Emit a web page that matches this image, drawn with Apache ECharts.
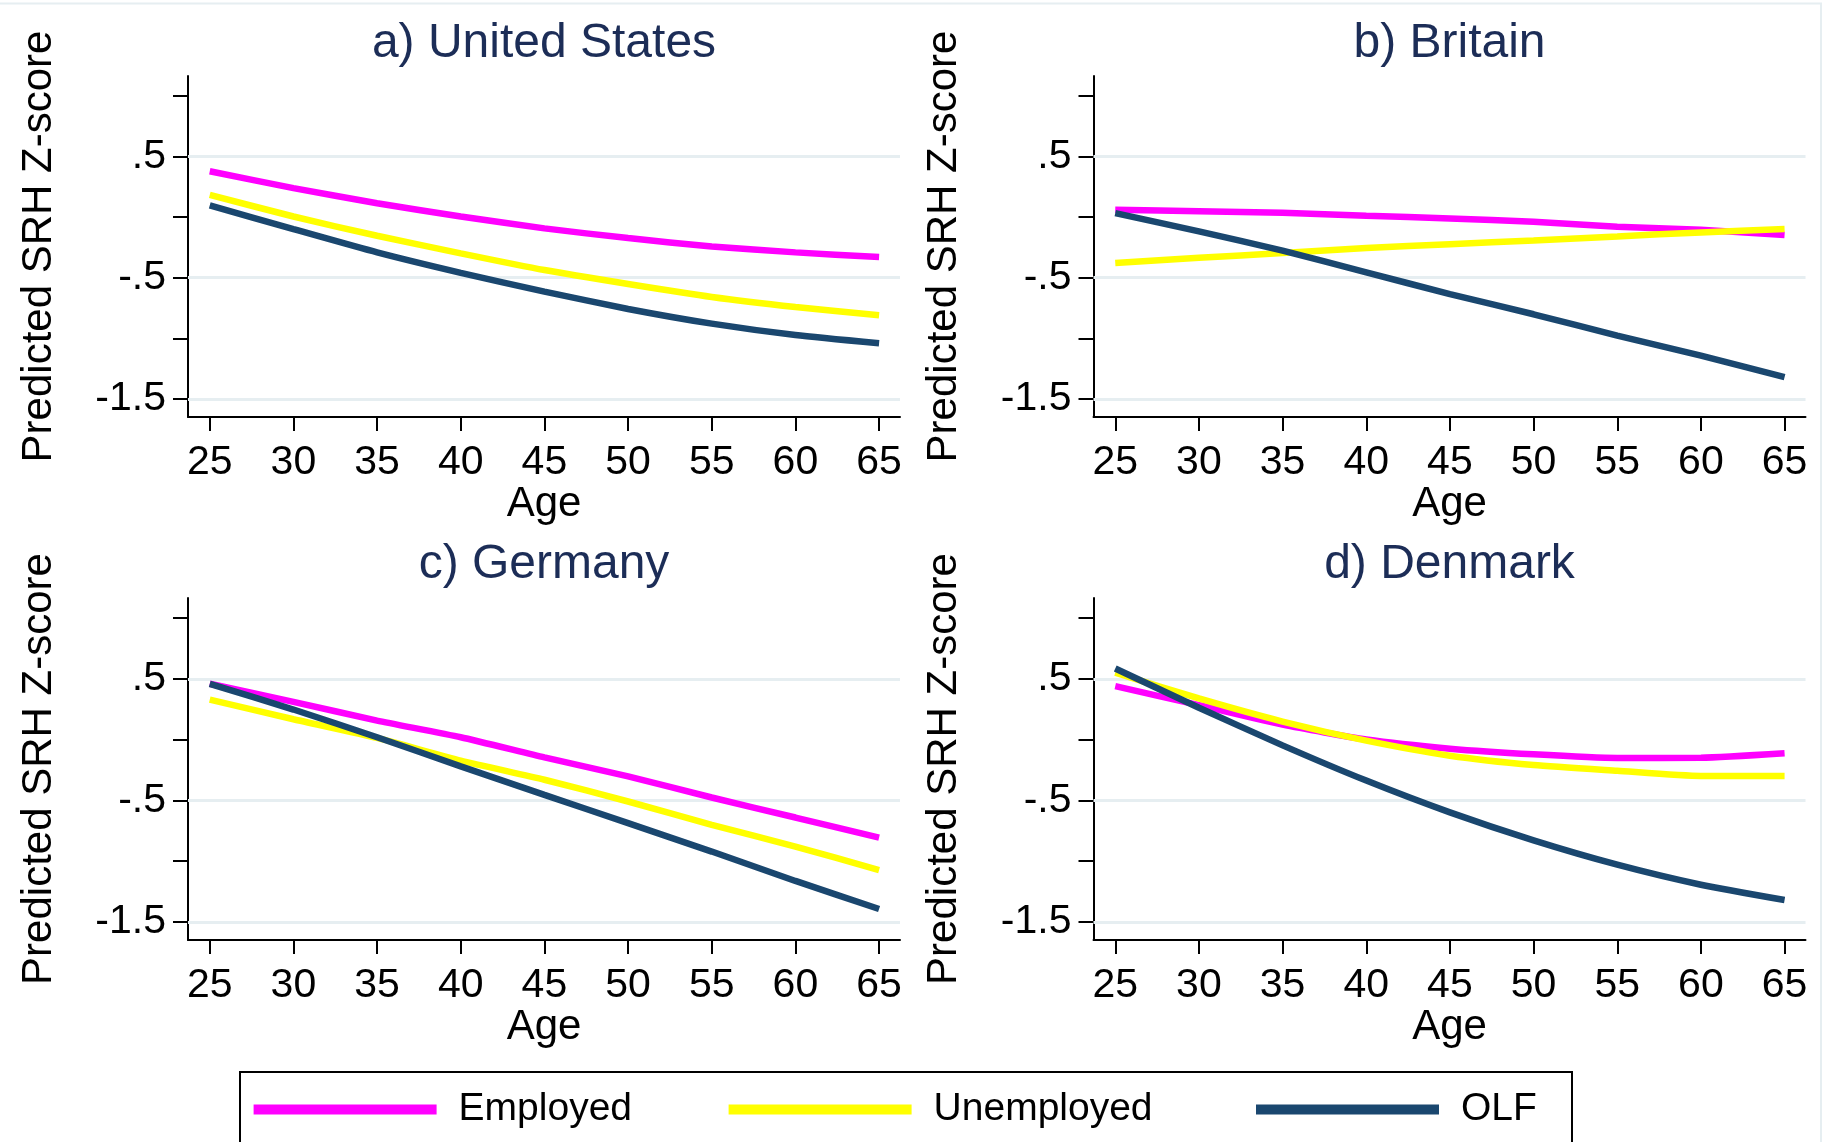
<!DOCTYPE html>
<html>
<head>
<meta charset="utf-8">
<script src="https://cdn.jsdelivr.net/npm/echarts@6/dist/echarts.min.js"></script>
<style>
html,body{margin:0;padding:0;background:#fff;}
#chart{width:1828px;height:1142px;}
</style>
</head>
<body>
<div id="chart"></div>
<script>
// ---- data ----
const ages = [25, 30, 35, 40, 45, 50, 55, 60, 65];
const seriesNames = ['Employed', 'Unemployed', 'OLF'];
const panelTitles = ['a) United States', 'b) Britain', 'c) Germany', 'd) Denmark'];
const yTickValues = [-1.5, -1, -0.5, 0, 0.5, 1];
const yLabelValues = [-1.5, -0.5, 0.5];

const usEmployed   = [0.379, 0.239, 0.115, 0.005, -0.093, -0.173, -0.242, -0.291, -0.330];
const usUnemployed = [0.184, 0.005, -0.154, -0.299, -0.437, -0.552, -0.659, -0.742, -0.810];
const usOLF        = [0.096, -0.099, -0.291, -0.460, -0.615, -0.758, -0.879, -0.973, -1.041];

const gbEmployed   = [0.060, 0.049, 0.036, 0.011, -0.011, -0.038, -0.080, -0.104, -0.148];
const gbUnemployed = [-0.379, -0.335, -0.297, -0.255, -0.223, -0.192, -0.159, -0.126, -0.099];
const gbOLF        = [0.033, -0.118, -0.277, -0.456, -0.635, -0.802, -0.978, -1.143, -1.321];

const deEmployed   = [0.459, 0.310, 0.156, 0.019, -0.147, -0.303, -0.477, -0.642, -0.807];
const deUnemployed = [0.329, 0.167, 0.013, -0.174, -0.331, -0.510, -0.702, -0.881, -1.074];
const deOLF        = [0.459, 0.247, 0.019, -0.221, -0.455, -0.688, -0.922, -1.164, -1.395];

const dkEmployed   = [0.439, 0.283, 0.123, 0.000, -0.075, -0.122, -0.152, -0.150, -0.113];
const dkUnemployed = [0.550, 0.338, 0.148, -0.009, -0.133, -0.210, -0.257, -0.300, -0.300];
const dkOLF        = [0.585, 0.262, -0.048, -0.338, -0.600, -0.830, -1.030, -1.195, -1.321];

const panelData = [
  [usEmployed, usUnemployed, usOLF],
  [gbEmployed, gbUnemployed, gbOLF],
  [deEmployed, deUnemployed, deOLF],
  [dkEmployed, dkUnemployed, dkOLF]
];

// ---- styling / layout ----
const FONT = "'Liberation Sans', Arial, Helvetica, sans-serif";
const colors = ['#ff00ff', '#ffff00', '#1a476f'];
const gridColor = '#e6eef1';
const grids = [
  {left: 188, top: 76, width: 712, height: 341},
  {left: 1093.5, top: 76, width: 712, height: 341},
  {left: 188, top: 598, width: 712, height: 342},
  {left: 1093.5, top: 598, width: 712, height: 342}
];
const titleTops = [20, 20, 541, 541];

const fmtY = v => String(v).replace('0.', '.');

const option = {
  animation: false,
  backgroundColor: '#ffffff',
  textStyle: {fontFamily: FONT},
  title: panelTitles.map((t, i) => ({
    text: t,
    left: grids[i].left + grids[i].width / 2,
    top: titleTops[i],
    textAlign: 'center',
    padding: 0,
    textStyle: {fontFamily: FONT, fontSize: 48, fontWeight: 'normal', color: '#1c2d57'}
  })),
  grid: grids.map(g => ({left: g.left, top: g.top, width: g.width, height: g.height, containLabel: false})),
  xAxis: grids.map((g, i) => ({
    type: 'value', gridIndex: i, min: 23.7, max: 66.25,
    name: 'Age', nameLocation: 'middle', nameGap: 64,
    nameTextStyle: {fontFamily: FONT, fontSize: 42, color: '#000'},
    axisLine: {show: true, onZero: false, lineStyle: {color: '#000', width: 2}},
    axisTick: {show: true, inside: false, length: 14, customValues: ages, lineStyle: {color: '#000', width: 2}},
    axisLabel: {show: true, customValues: ages, fontFamily: FONT, fontSize: 41, color: '#000', margin: 25},
    splitLine: {show: false}
  })),
  yAxis: grids.map((g, i) => ({
    type: 'value', gridIndex: i, min: -1.65, max: 1.165,
    name: 'Predicted SRH Z-score', nameLocation: 'middle', nameGap: 128,
    nameTextStyle: {fontFamily: FONT, fontSize: 42, color: '#000'},
    axisLine: {show: true, onZero: false, lineStyle: {color: '#000', width: 2}},
    axisTick: {show: true, inside: false, length: 15, customValues: yTickValues, lineStyle: {color: '#000', width: 2}},
    axisLabel: {show: true, customValues: yLabelValues, formatter: fmtY, fontFamily: FONT, fontSize: 41, color: '#000', margin: 22},
    splitLine: {show: false}
  })),
  legend: seriesNames.map((n, k) => ({
    data: [n],
    left: [253.6, 728.6, 1256][k],
    top: 1090,
    padding: 0,
    icon: 'rect',
    itemWidth: 183,
    itemHeight: 10,
    selectedMode: false,
    textStyle: {fontFamily: FONT, fontSize: 39, color: '#000', padding: [0, 0, 0, 17]}
  })),
  graphic: [
    {type: 'rect', z: -10, silent: true, shape: {x: -10, y: 3.5, width: 1831, height: 1200},
     style: {fill: '#ffffff', stroke: gridColor, lineWidth: 2}},
    {type: 'rect', z: -5, silent: true, shape: {x: 240, y: 1072, width: 1332, height: 120},
     style: {fill: '#ffffff', stroke: '#000000', lineWidth: 2}}
  ],
  series: []
};

panelData.forEach((groups, p) => {
  groups.forEach((vals, k) => {
    const s = {
      type: 'line',
      name: seriesNames[k],
      xAxisIndex: p,
      yAxisIndex: p,
      data: ages.map((a, j) => [a, vals[j]]),
      showSymbol: false,
      symbol: 'none',
      smooth: 0.2,
      z: 3 + k,
      color: colors[k],
      lineStyle: {color: colors[k], width: 6.5, cap: 'butt'},
      emphasis: {disabled: true}
    };
    if (k === 0) {
      s.markLine = {
        silent: true, symbol: 'none', z: 1,
        label: {show: false},
        lineStyle: {color: gridColor, width: 3, type: 'solid'},
        emphasis: {disabled: true},
        data: yLabelValues.map(v => ({yAxis: v}))
      };
    }
    option.series.push(s);
  });
});

const chart = echarts.init(document.getElementById('chart'), null, {renderer: 'canvas'});
chart.setOption(option);
</script>
</body>
</html>
